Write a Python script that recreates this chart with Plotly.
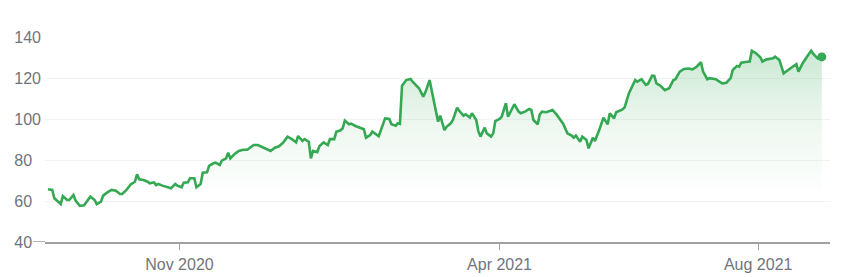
import plotly.graph_objects as go

dates = [
    "2020-08-31", "2020-09-02", "2020-09-03", "2020-09-04", "2020-09-06", "2020-09-07",
    "2020-09-09", "2020-09-10", "2020-09-12", "2020-09-13", "2020-09-15", "2020-09-17",
    "2020-09-18", "2020-09-20", "2020-09-22", "2020-09-23", "2020-09-25", "2020-09-26",
    "2020-09-28", "2020-09-30", "2020-10-02", "2020-10-04", "2020-10-05", "2020-10-07",
    "2020-10-09", "2020-10-11", "2020-10-12", "2020-10-13", "2020-10-15", "2020-10-17",
    "2020-10-18", "2020-10-20", "2020-10-21", "2020-10-22", "2020-10-24", "2020-10-26",
    "2020-10-28", "2020-10-30", "2020-10-31", "2020-11-02", "2020-11-03", "2020-11-05",
    "2020-11-06", "2020-11-08", "2020-11-09", "2020-11-11", "2020-11-12", "2020-11-14",
    "2020-11-15", "2020-11-17", "2020-11-18", "2020-11-20", "2020-11-21", "2020-11-23",
    "2020-11-24", "2020-11-25", "2020-11-27", "2020-11-29", "2020-12-01", "2020-12-03",
    "2020-12-06", "2020-12-08", "2020-12-10", "2020-12-12", "2020-12-14", "2020-12-16",
    "2020-12-18", "2020-12-20", "2020-12-22", "2020-12-24", "2020-12-26", "2020-12-27",
    "2020-12-29", "2020-12-30", "2021-01-01", "2021-01-02", "2021-01-03", "2021-01-05",
    "2021-01-06", "2021-01-08", "2021-01-10", "2021-01-11", "2021-01-13", "2021-01-14",
    "2021-01-16", "2021-01-17", "2021-01-18", "2021-01-20", "2021-01-21", "2021-01-23",
    "2021-01-25", "2021-01-27", "2021-01-28", "2021-01-30", "2021-01-31", "2021-02-02",
    "2021-02-03", "2021-02-05", "2021-02-06", "2021-02-08", "2021-02-09", "2021-02-11",
    "2021-02-12", "2021-02-13", "2021-02-14", "2021-02-16", "2021-02-18", "2021-02-19",
    "2021-02-21", "2021-02-22", "2021-02-24", "2021-02-25", "2021-02-27", "2021-02-28",
    "2021-03-02", "2021-03-03", "2021-03-04", "2021-03-06", "2021-03-07", "2021-03-09",
    "2021-03-10", "2021-03-12", "2021-03-13", "2021-03-15", "2021-03-16", "2021-03-18",
    "2021-03-19", "2021-03-21", "2021-03-22", "2021-03-23", "2021-03-25", "2021-03-26",
    "2021-03-28", "2021-03-29", "2021-03-30", "2021-04-01", "2021-04-02", "2021-04-04",
    "2021-04-05", "2021-04-07", "2021-04-08", "2021-04-10", "2021-04-11", "2021-04-13",
    "2021-04-15", "2021-04-16", "2021-04-17", "2021-04-19", "2021-04-20", "2021-04-21",
    "2021-04-23", "2021-04-25", "2021-04-26", "2021-04-28", "2021-04-30", "2021-05-01",
    "2021-05-03", "2021-05-05", "2021-05-06", "2021-05-07", "2021-05-09", "2021-05-10",
    "2021-05-12", "2021-05-13", "2021-05-15", "2021-05-16", "2021-05-18", "2021-05-20",
    "2021-05-22", "2021-05-23", "2021-05-25", "2021-05-26", "2021-05-29", "2021-05-30",
    "2021-06-01", "2021-06-04", "2021-06-05", "2021-06-07", "2021-06-09", "2021-06-10",
    "2021-06-12", "2021-06-13", "2021-06-14", "2021-06-16", "2021-06-18", "2021-06-20",
    "2021-06-22", "2021-06-23", "2021-06-25", "2021-06-27", "2021-06-29", "2021-07-01",
    "2021-07-03", "2021-07-05", "2021-07-06", "2021-07-08", "2021-07-09", "2021-07-12",
    "2021-07-13", "2021-07-15", "2021-07-17", "2021-07-19", "2021-07-20", "2021-07-22",
    "2021-07-23", "2021-07-24", "2021-07-26", "2021-07-28", "2021-07-29", "2021-07-31",
    "2021-08-02", "2021-08-03", "2021-08-05", "2021-08-07", "2021-08-08", "2021-08-09",
    "2021-08-11", "2021-08-13", "2021-08-15", "2021-08-17", "2021-08-19", "2021-08-20",
    "2021-08-22", "2021-08-24", "2021-08-26", "2021-08-27", "2021-08-29", "2021-08-30",
    "2021-08-31",
]

prices = [
    65.7, 65.4, 61.3, 60.5, 58.5, 62.4,
    60.5, 60.5, 62.9, 60.2, 57.6, 57.9,
    59.2, 62.1, 60.5, 58.5, 59.7, 62.6,
    64.2, 65.4, 65.0, 63.4, 63.4, 65.4,
    68.1, 69.4, 73.0, 70.6, 70.2, 69.4,
    68.6, 69.1, 67.8, 68.3, 67.5, 67.0,
    66.2, 68.3, 67.5, 66.7, 68.9, 69.1,
    71.1, 71.1, 66.7, 68.3, 73.8, 74.0,
    77.1, 78.4, 78.7, 77.6, 79.7, 80.8,
    83.6, 80.8, 82.9, 84.4, 85.0, 85.0,
    87.3, 87.3, 86.3, 85.0, 84.4, 86.0,
    86.7, 88.6, 91.4, 90.2, 88.6, 91.7,
    89.3, 90.2, 88.9, 80.8, 84.4, 83.8,
    86.7, 88.6, 87.3, 90.2, 90.2, 93.8,
    94.5, 95.5, 99.2, 97.4, 97.7, 96.6,
    95.9, 95.0, 90.9, 92.2, 93.8, 92.5,
    91.6, 97.4, 100.3, 100.0, 97.4, 96.7,
    97.9, 97.6, 116.2, 119.0, 119.5, 118.2,
    115.8, 115.0, 110.9, 113.0, 119.0, 113.7,
    103.6, 98.7, 101.6, 94.6, 96.2, 97.9,
    99.5, 105.5, 104.0, 101.6, 102.3, 100.7,
    102.8, 99.5, 94.1, 91.4, 95.8, 93.0,
    91.4, 93.0, 99.0, 100.0, 101.1, 107.7,
    101.1, 105.2, 107.2, 103.6, 102.8, 103.6,
    104.9, 104.4, 99.5, 97.4, 102.3, 103.6,
    103.3, 104.0, 104.4, 102.0, 98.7, 97.7,
    93.0, 91.9, 90.9, 91.9, 88.9, 91.4,
    89.8, 85.7, 90.9, 89.3, 94.6, 100.7,
    97.4, 102.8, 100.3, 103.3, 104.7, 105.7,
    112.5, 119.0, 118.2, 119.4, 116.6, 117.1,
    121.1, 121.0, 117.4, 116.1, 114.1, 115.0,
    119.0, 119.4, 123.1, 124.4, 124.6, 124.2,
    125.5, 127.7, 123.1, 119.4, 119.9, 119.4,
    118.7, 117.4, 117.7, 119.9, 123.9, 125.9,
    125.5, 127.5, 127.8, 128.0, 133.3, 132.0,
    130.1, 128.0, 129.1, 129.6, 129.6, 130.4,
    128.8, 122.3, 123.9, 125.2, 126.8, 123.1,
    127.2, 130.4, 133.3, 131.7, 129.6, 131.0,
    130.3,
]

y_tick_vals = [40, 60, 80, 100, 120, 140]
# trailing no-break spaces keep the two-digit labels left-aligned with the three-digit ones
y_tick_text = ["40\u00a0\u00a0", "60\u00a0\u00a0", "80\u00a0\u00a0", "100", "120", "140"]
x_tick_vals = ["2020-11-01", "2021-04-01", "2021-08-01"]
x_tick_text = ["Nov 2020", "Apr 2021", "Aug 2021"]

GREEN = "#34a853"
TEXT = "#70757a"
FONT = "Liberation Sans, Arial, sans-serif"

fig = go.Figure()
fig.add_trace(go.Scatter(
    x=dates, y=prices, mode="lines",
    line=dict(color=GREEN, width=2.6),
    fill="tozeroy",
    fillgradient=dict(
        type="vertical",
        colorscale=[[0, "rgba(52,168,83,0.0)"], [0.5, "rgba(52,168,83,0.09)"],
                    [1, "rgba(52,168,83,0.26)"]],
        start=62, stop=134,
    ),
    hoverinfo="skip",
))
fig.add_trace(go.Scatter(
    x=[dates[-1]], y=[prices[-1]], mode="markers",
    marker=dict(color=GREEN, size=9),
    hoverinfo="skip",
))

fig.update_layout(
    width=849, height=277,
    margin=dict(l=45, r=19, t=37, b=35),
    paper_bgcolor="white", plot_bgcolor="white",
    showlegend=False,
    font=dict(family=FONT, size=16, color=TEXT),
)
fig.update_xaxes(
    range=["2020-08-29 14:00", "2021-09-03 21:00"],
    tickvals=x_tick_vals, ticktext=x_tick_text,
    showgrid=False, zeroline=False, automargin=False,
    showline=True, linecolor="#a0a0a0", linewidth=1.6,
    ticks="outside", ticklen=6, tickcolor="#a0a0a0", tickwidth=1.2,
    ticklabelstandoff=1,
    tickfont=dict(family=FONT, size=16, color=TEXT),
)
fig.update_yaxes(
    range=[40, 140],
    tickvals=y_tick_vals, ticktext=y_tick_text,
    showgrid=True, gridcolor="#f3f3f3", gridwidth=1,
    zeroline=False, showline=False, ticks="", automargin=False,
    ticklabelstandoff=3,
    tickfont=dict(family=FONT, size=16, color=TEXT),
)
fig.add_shape(
    type="line", xref="paper", yref="y",
    x0=-12 / 785, x1=0, y0=40, y1=40,
    line=dict(color="#a0a0a0", width=1.6),
)

fig.write_html("out.html")
